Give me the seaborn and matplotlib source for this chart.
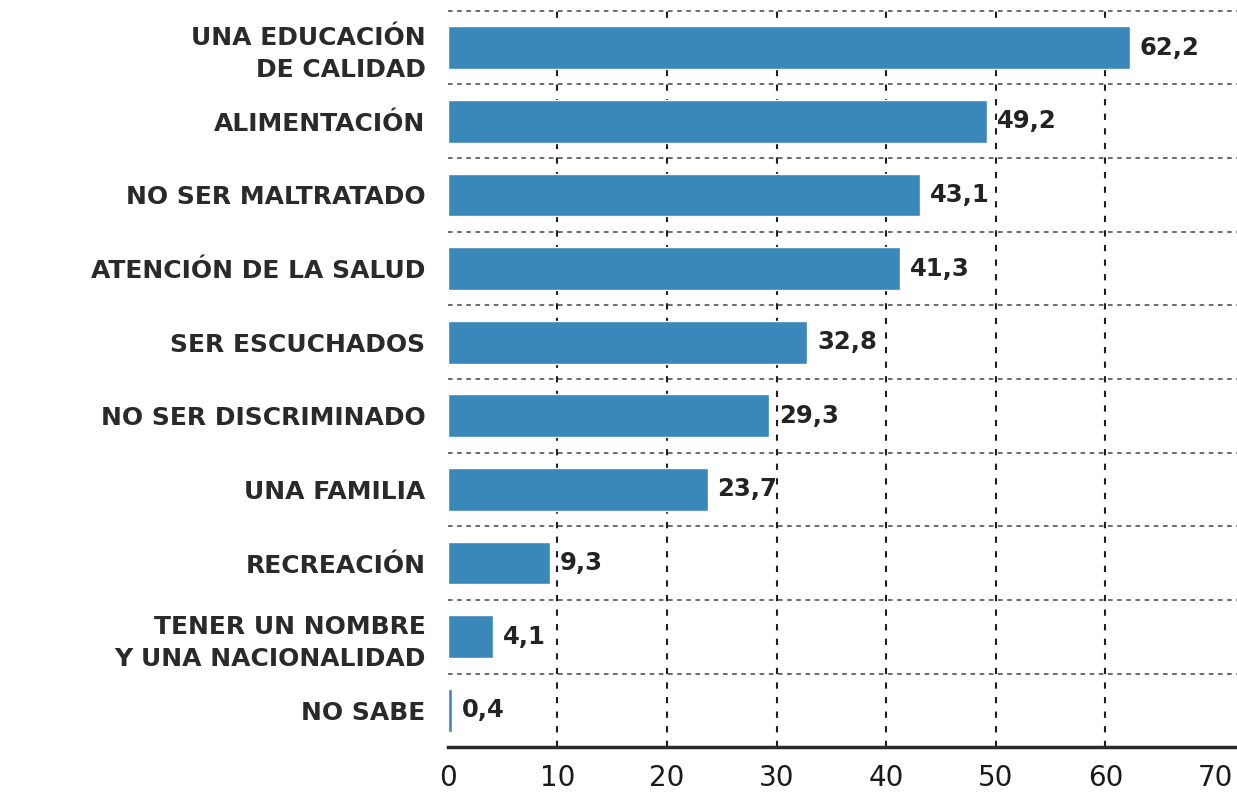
import numpy as np
import pandas as pd
import matplotlib.pyplot as plt
import seaborn as sns

categorias = ['UNA EDUCACIÓN\nDE CALIDAD', 'ALIMENTACIÓN', 'NO SER MALTRATADO',
              'ATENCIÓN DE LA SALUD', 'SER ESCUCHADOS', 'NO SER DISCRIMINADO',
              'UNA FAMILIA', 'RECREACIÓN', 'TENER UN NOMBRE\nY UNA NACIONALIDAD',
              'NO SABE']
valores = [62.2, 49.2, 43.1, 41.3, 32.8, 29.3, 23.7, 9.3, 4.1, 0.4]
ticks_x = [0, 10, 20, 30, 40, 50, 60, 70]

df = pd.DataFrame({'derecho': categorias, 'pct': valores})

sns.set_style('white')
plt.rcParams['font.family'] = ['DejaVu Sans']

fig = plt.figure(figsize=(12.37, 7.94), dpi=100)
ax = fig.add_axes([0.362, 0.059, 0.638, 0.932])

sns.barplot(data=df, x='pct', y='derecho', orient='h', color='#3a87ba',
            saturation=1, width=0.58, ax=ax, zorder=3)

# etiquetas con coma decimal
etiquetas = [f'{v:.1f}'.replace('.', ',') for v in valores]
ax.bar_label(ax.containers[0], labels=etiquetas, padding=7,
             fontsize=17.5, fontweight='bold', color='#232323')

ax.set_xlim(0, 72)
ax.set_ylim(9.5, -0.55)
ax.set_xticks(ticks_x)
ax.set_xticklabels([str(t) for t in ticks_x], fontsize=20, color='#1a1a1a')
ax.set_xlabel('')
ax.set_ylabel('')
ax.tick_params(axis='x', length=0, pad=12)
ax.tick_params(axis='y', length=0, pad=16)
for lab in ax.get_yticklabels():
    lab.set_fontsize(18)
    lab.set_fontweight('bold')
    lab.set_color('#2a2a2a')
    lab.set_linespacing(1.4)

# grilla punteada
ax.grid(axis='x', linestyle=(0, (3, 4)), color='#1e1e1e', linewidth=1.5, zorder=0)
gl = ax.get_xgridlines()
gl[0].set_visible(False)
gl[-1].set_visible(False)
ax.set_yticks(np.arange(-0.5, 9.0, 1.0), minor=True)
ax.grid(axis='y', which='minor', linestyle=(0, (3, 3)), color='#444444',
        linewidth=1.1, zorder=0)
ax.tick_params(axis='y', which='minor', length=0)

for s in ['top', 'right', 'left']:
    ax.spines[s].set_visible(False)
ax.spines['bottom'].set_linewidth(2.5)
ax.spines['bottom'].set_color('#2a2a2a')

fig.savefig('out.png', dpi=100, facecolor='white')
